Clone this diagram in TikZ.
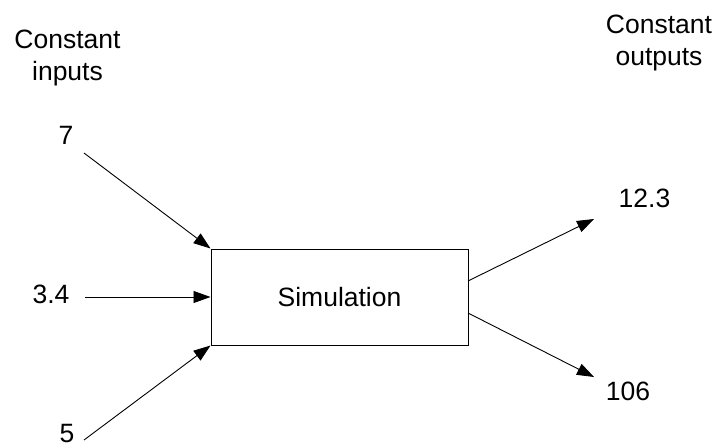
\documentclass[tikz,border=0pt]{standalone}
\usepackage{fontspec}
\setmainfont{Liberation Sans}
\usetikzlibrary{arrows.meta}
\begin{document}
\begin{tikzpicture}[x=1pt,y=-1pt,
  lbl/.style={font=\fontsize{26.5}{32}\selectfont, inner sep=0pt, align=center},
  conn/.style={line width=0.9pt, -{Triangle[length=17pt,width=12pt]}},
  simbox/.style={draw, line width=1pt, minimum width=257pt, minimum height=96pt, inner sep=0pt, font=\fontsize{26.5}{32}\selectfont}]
\useasboundingbox (0,0) rectangle (720,447);
\fill[white] (0,0) rectangle (720,447);
\node[simbox] (sim) at (339.5,297) {Simulation};
\node[lbl] (hin) at (67.5,58) {Constant\\inputs};
\node[lbl] (hout) at (659,42.5) {Constant\\outputs};
\node[lbl] (n7) at (66,135) {7};
\node[lbl] (n34) at (51,294.5) {3.4};
\node[lbl] (n5) at (67,433.5) {5};
\node[lbl] (n123) at (644.5,198.5) {12.3};
\node[lbl] (n106) at (628,391) {106};
\coordinate (s7) at (84,153);
\coordinate (s34) at (85,297);
\coordinate (s5) at (84,440);
\coordinate (o1s) at (468,281);
\coordinate (o1e) at (594,219);
\coordinate (o2s) at (468,313);
\coordinate (o2e) at (594,377);
\draw[conn] (s7) -- (sim.north west);
\draw[conn] (s34) -- (sim.west);
\draw[conn] (s5) -- (sim.south west);
\draw[conn] (o1s) -- (o1e);
\draw[conn] (o2s) -- (o2e);
\end{tikzpicture}
\end{document}
